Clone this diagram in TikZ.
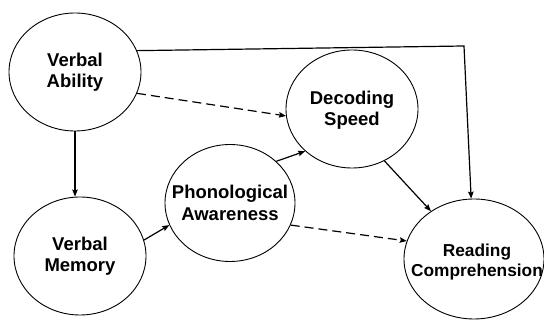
\documentclass[tikz,border=0pt]{standalone}
\usepackage{fontspec}
\setmainfont{Liberation Sans}
\usetikzlibrary{shapes.geometric,arrows.meta}
\begin{document}
\begin{tikzpicture}[x=1pt,y=-1pt,
  ell/.style={draw, ellipse, line width=0.9pt, inner sep=0pt, minimum width=132pt, minimum height=118pt},
  lbl/.style={align=center, inner sep=0pt, font=\fontsize{18.5}{21.5}\selectfont\bfseries},
  lblsmall/.style={align=center, inner sep=0pt, font=\fontsize{17.3}{19.5}\selectfont\bfseries},
  conn/.style={line width=1.2pt, -{Stealth[length=7pt,width=5.5pt,inset=1pt]}},
  dconn/.style={conn, dash pattern=on 9pt off 5pt}]
\useasboundingbox (0,0) rectangle (544,320);
\node[ell, label={[lbl]center:Verbal\\Ability}] (va) at (75,72) {};
\node[ell, label={[lbl, yshift=-1pt]center:Decoding\\Speed}] (ds) at (352,109) {};
\node[ell, label={[lbl]center:Verbal\\Memory}] (vm) at (80,256) {};
\node[ell, minimum width=130pt, minimum height=117pt, label={[lbl]center:Phonological\\Awareness}] (pa) at (230,203) {};
\node[ell, minimum width=140pt, minimum height=120pt, label={[lblsmall, xshift=3pt, yshift=-3pt]center:Reading\\Comprehension}] (rc) at (474,259) {};
\coordinate (corner) at (464,46);
\draw[conn] (va.19) -- (corner) -- (rc);
\draw[dconn] (va.-19) -- (ds.186);
\draw[conn] (va.south) -- (va.south |- vm.north);
\draw[conn] (vm.14) -- (pa.200);
\draw[conn] (pa.42) -- (ds.222);
\draw[conn] (ds.-58) -- (rc.132);
\draw[dconn] (pa.-20) -- (rc.165);
\end{tikzpicture}
\end{document}
